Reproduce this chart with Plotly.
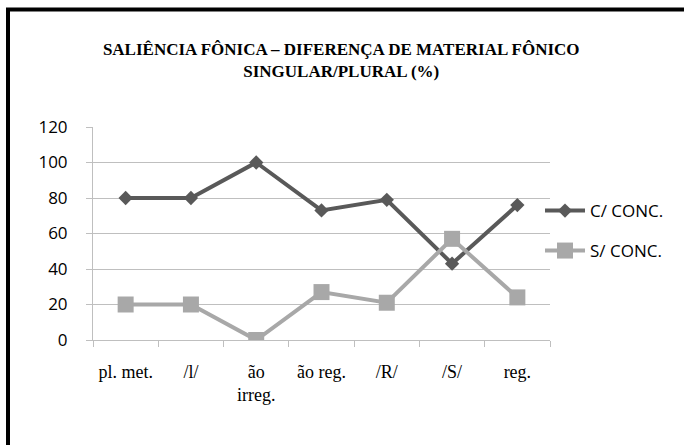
import plotly.graph_objects as go

categories = ["pl. met.", "/l/", "ão<br>irreg.", "ão reg.", "/R/", "/S/", "reg."]
c_conc = [80, 80, 100, 73, 79, 43, 76]
s_conc = [20, 20, 0, 27, 21, 57, 24]
y_ticks = [0, 20, 40, 60, 80, 100, 120]

W, H = 684, 445
L, R, T, B = 93, 134, 127, 105
pw, ph = W - L - R, H - T - B

def px(x):
    return (x - L) / pw

def py(y):
    return (H - B - y) / ph

DARK = "#595959"
LIGHT = "#A8A8A8"

fig = go.Figure()
fig.add_trace(go.Scatter(
    x=categories, y=c_conc, name="C/ CONC.", mode="lines+markers",
    line=dict(color=DARK, width=4),
    marker=dict(symbol="diamond", size=11, color=DARK),
    legend="legend",
))
fig.add_trace(go.Scatter(
    x=categories, y=s_conc, name="S/ CONC.", mode="lines+markers",
    line=dict(color=LIGHT, width=4),
    marker=dict(symbol="square", size=16, color=LIGHT),
    legend="legend2",
))

leg_font = dict(family="Open Sans", size=17, color="black")

fig.update_layout(
    width=W, height=H,
    margin=dict(l=L, r=R, t=T, b=B),
    paper_bgcolor="white", plot_bgcolor="white",
    title=dict(
        text="SALIÊNCIA FÔNICA – DIFERENÇA DE MATERIAL FÔNICO<br>SINGULAR/PLURAL (%)",
        x=px(321), xanchor="center", y=1 - 55 / H, yanchor="middle",
        font=dict(family="Liberation Serif", size=17, color="black", weight="bold"),
    ),
    showlegend=True,
    legend=dict(
        x=px(540), xanchor="left", y=py(211), yanchor="middle",
        font=leg_font, itemwidth=40, bgcolor="rgba(0,0,0,0)",
    ),
    legend2=dict(
        x=px(540), xanchor="left", y=py(251), yanchor="middle",
        font=leg_font, itemwidth=40, bgcolor="rgba(0,0,0,0)",
    ),
    xaxis=dict(
        type="category", showgrid=False, showline=True, linecolor="#BFBFBF", linewidth=1,
        ticks="outside", tickson="boundaries", ticklen=6, tickcolor="#BFBFBF",
        tickfont=dict(family="Liberation Serif", size=18, color="black"),
        tickangle=0, ticklabelstandoff=15, range=[-0.5, 6.5], fixedrange=True,
    ),
    yaxis=dict(
        range=[0, 120], tickvals=y_ticks, showgrid=True, gridcolor="#BFBFBF", gridwidth=1,
        showline=True, linecolor="#BFBFBF", linewidth=1, zeroline=False,
        ticks="outside", ticklen=6, tickcolor="#BFBFBF",
        tickfont=dict(family="Open Sans", size=17, color="black"),
        ticklabelstandoff=15, fixedrange=True,
    ),
    shapes=[dict(
        type="rect", xref="paper", yref="paper",
        x0=px(8), x1=px(W + 20), y0=py(H + 20), y1=py(9.5),
        line=dict(color="black", width=4), fillcolor="rgba(0,0,0,0)", layer="above",
    )],
)

fig.write_html(
    "out.html",
    config={"displayModeBar": False},
    post_script="document.body.style.margin='0';document.body.style.overflow='hidden';",
)
